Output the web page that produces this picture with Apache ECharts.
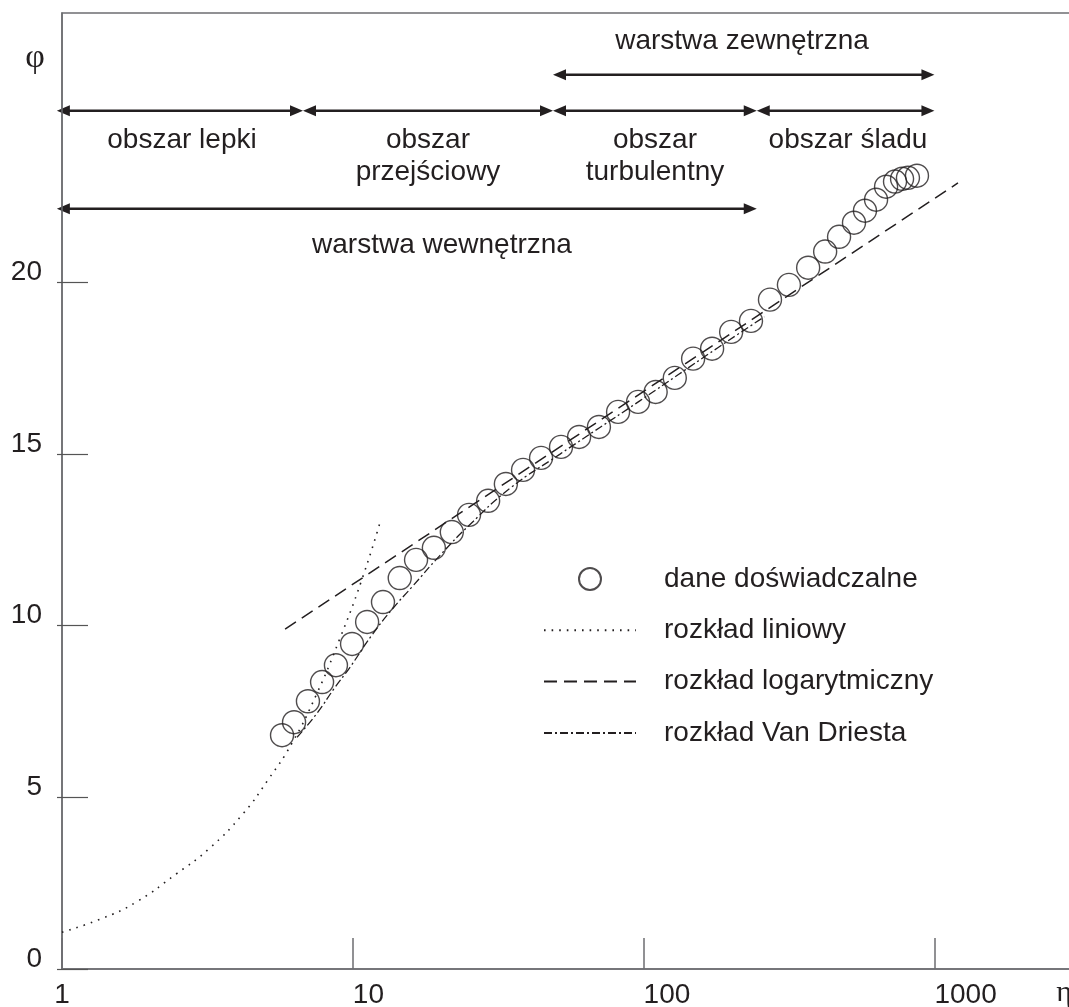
<!DOCTYPE html>
<html>
<head>
<meta charset="utf-8">
<script src="https://cdn.jsdelivr.net/npm/echarts@6/dist/echarts.min.js"></script>
<style>
  html, body { margin: 0; padding: 0; background: #fff; }
  #main { width: 1069px; height: 1007px; }
</style>
</head>
<body>
<div id="main"></div>
<script>
const etaMeas = [5.71, 6.28, 7.01, 7.84, 8.75, 9.94, 11.2, 12.7, 14.5, 16.5, 19.0, 21.9, 25.1, 29.2, 33.6, 38.5, 44.4, 52.0, 60.0, 70.2,
  81.7, 95.7, 110, 128, 148, 172, 200, 234, 272, 316, 368, 421, 470, 529, 577, 630, 682, 732, 774, 811, 871]
const phiMeas = [6.81, 7.19, 7.80, 8.36, 8.85, 9.47, 10.11, 10.69, 11.39, 11.92, 12.27, 12.73, 13.23, 13.64, 14.13, 14.54, 14.89, 15.21, 15.50, 15.79,
  16.23, 16.52, 16.81, 17.22, 17.78, 18.07, 18.56, 18.88, 19.50, 19.93, 20.43, 20.90, 21.33, 21.74, 22.09, 22.41, 22.79, 22.94, 23.02, 23.05, 23.11]

// linear sublayer curve
const etaLin = [1, 1.37, 1.8, 2.48, 3.2, 4.2, 5.1, 6.17, 7.5, 9, 10.7, 12.4]
const phiLin = [1.07, 1.47, 1.95, 2.78, 3.5, 4.53, 5.5, 6.57, 8.0, 9.6, 11.3, 13.0]

// log law (straight on log axis)
const etaLog = [5.85, 1205]
const phiLog = [9.9, 22.9]

// Van Driest curve
const etaVD = [6.43, 7.53, 8.69, 9.78, 11.64, 13.75, 15.98, 19.95, 25.3, 34.7, 51.6, 97, 180, 260]
const phiVD = [6.75, 7.45, 8.21, 8.79, 9.73, 10.51, 11.13, 12.05, 12.95, 14.0, 15.0, 16.55, 18.1, 19.0]

const xTicks = [1, 10, 100, 1000]
const yTicks = [0, 5, 10, 15, 20]

// region arrows: [eta from, eta to, phi level]
const arrowSpans = [
    [48.8, 1000, 26.05],
    [0.96, 6.74, 25.0],
    [6.74, 48.8, 25.0],
    [48.8, 245, 25.0],
    [245, 1000, 25.0],
    [0.96, 245, 22.15]
]

const zoneLabels = [
    ['warstwa zewnętrzna', 742, 41],
    ['obszar lepki', 182, 140],
    ['obszar\nprzejściowy', 428, 156],
    ['obszar\nturbulentny', 655, 156],
    ['obszar śladu', 848, 140],
    ['warstwa wewnętrzna', 442, 245]
]

const ink = '#231f20'
const axisGray = '#6d6e71'
const font = '"Liberation Sans", Arial, sans-serif'
const serif = '"Liberation Serif", "DejaVu Serif", serif'
const noMarker = { color: 'rgba(0,0,0,0)', borderWidth: 0 }

const zip = (xs, ys) => xs.map((x, i) => [x, ys[i]])

const chart = echarts.init(document.getElementById('main'))

const option = {
    animation: false,
    backgroundColor: '#fff',
    grid: {
        left: 62,
        top: 13,
        right: -5,
        bottom: 38,
        outerBoundsMode: 'none',
        show: true,
        borderColor: axisGray,
        borderWidth: 1.5
    },
    legend: {
        orient: 'vertical',
        left: 538,
        top: 559,
        itemWidth: 92,
        itemHeight: 22,
        itemGap: 21.3,
        selectedMode: false,
        textStyle: {
            fontSize: 28,
            fontFamily: font,
            color: ink,
            lineHeight: 30,
            padding: [0, 0, 0, 23]
        },
        data: ['dane doświadczalne', 'rozkład liniowy', 'rozkład logarytmiczny', 'rozkład Van Driesta']
    },
    xAxis: {
        type: 'log',
        logBase: 10,
        min: 1,
        max: 3020,
        axisLine: { lineStyle: { color: axisGray, width: 1.5 } },
        axisTick: { inside: true, length: 31, customValues: xTicks, lineStyle: { color: axisGray, width: 1.5 } },
        minorTick: { show: false },
        splitLine: { show: false },
        axisLabel: {
            customValues: xTicks,
            fontSize: 28,
            fontFamily: font,
            color: ink,
            margin: 16,
            lineHeight: 20,
            align: 'left',
            alignMinLabel: 'center',
            formatter: v => String(Math.round(v))
        }
    },
    yAxis: [
        {
            type: 'value',
            min: 0,
            max: 27.85,
            axisLine: { show: true, lineStyle: { color: axisGray, width: 1.5 } },
            axisTick: { inside: true, length: 26, customValues: yTicks, lineStyle: { color: '#555', width: 1.2 } },
            splitLine: { show: false },
            axisLabel: {
                customValues: yTicks,
                fontSize: 28,
                fontFamily: font,
                color: ink,
                margin: 20,
                lineHeight: 20,
                verticalAlign: 'bottom'
            }
        },
        {
            // short outer stubs of the y ticks
            type: 'value',
            position: 'left',
            min: 0,
            max: 27.85,
            axisLine: { show: false },
            axisTick: { show: true, inside: false, length: 5, customValues: yTicks, lineStyle: { color: '#555', width: 1.2 } },
            axisLabel: { show: false },
            splitLine: { show: false }
        }
    ],
    series: [
        {
            name: 'dane doświadczalne',
            type: 'scatter',
            data: zip(etaMeas, phiMeas),
            symbol: 'circle',
            symbolSize: 23,
            itemStyle: { color: 'rgba(0,0,0,0)', borderColor: ink, borderWidth: 1.4 },
            z: 5
        },
        {
            name: 'rozkład liniowy',
            type: 'line',
            data: zip(etaLin, phiLin),
            symbol: 'none',
            smooth: true,
            itemStyle: noMarker,
            lineStyle: { color: ink, width: 1.6, type: [1.6, 6] }
        },
        {
            name: 'rozkład logarytmiczny',
            type: 'line',
            data: zip(etaLog, phiLog),
            symbol: 'none',
            itemStyle: noMarker,
            lineStyle: { color: ink, width: 1.5, type: [13, 7] }
        },
        {
            name: 'rozkład Van Driesta',
            type: 'line',
            data: zip(etaVD, phiVD),
            symbol: 'none',
            smooth: true,
            itemStyle: noMarker,
            lineStyle: { color: ink, width: 1.3, type: [8, 3, 2, 3] }
        }
    ]
}

chart.setOption(option)

// arrows and region captions
const head = 13
const halfW = 5.5
const elements = []
arrowSpans.forEach(([a, b, phi]) => {
    const p1 = chart.convertToPixel({ gridIndex: 0 }, [a, phi])
    const p2 = chart.convertToPixel({ gridIndex: 0 }, [b, phi])
    const y = p1[1]
    elements.push({
        type: 'line',
        shape: { x1: p1[0] + head - 1, y1: y, x2: p2[0] - head + 1, y2: y },
        style: { stroke: ink, lineWidth: 2.5 }
    })
    elements.push({
        type: 'polygon',
        shape: { points: [[p1[0], y], [p1[0] + head, y - halfW], [p1[0] + head, y + halfW]] },
        style: { fill: ink }
    })
    elements.push({
        type: 'polygon',
        shape: { points: [[p2[0], y], [p2[0] - head, y - halfW], [p2[0] - head, y + halfW]] },
        style: { fill: ink }
    })
})
zoneLabels.forEach(([text, x, y]) => {
    elements.push({
        type: 'text',
        x: x,
        y: y,
        style: {
            text: text,
            fontSize: 28,
            fontFamily: font,
            lineHeight: 32,
            fill: ink,
            align: 'center',
            verticalAlign: 'middle'
        }
    })
})
// axis symbols
elements.push({
    type: 'text', x: 35, y: 58,
    style: { text: 'φ', fontSize: 34, fontFamily: serif, fill: ink, align: 'center', verticalAlign: 'middle' }
})
elements.push({
    type: 'text', x: 1064, y: 993,
    style: { text: 'η', fontSize: 30, fontFamily: serif, fill: ink, align: 'center', verticalAlign: 'middle' }
})

chart.setOption({ graphic: { elements: elements } })
</script>
</body>
</html>
